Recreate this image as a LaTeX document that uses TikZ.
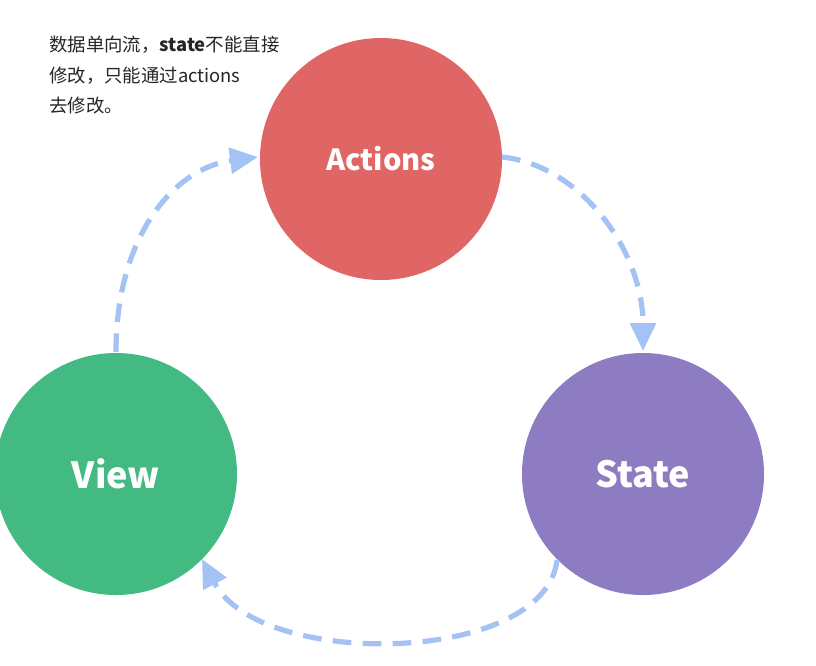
\documentclass[tikz,border=0pt]{standalone}
\usepackage{fontspec}
\setmainfont{Noto Sans}
\newfontfamily\cjk{Noto Sans CJK SC}
\usetikzlibrary{arrows.meta}
\definecolor{actred}{HTML}{E06666}
\definecolor{statepurple}{HTML}{8E7CC3}
\definecolor{viewgreen}{HTML}{43BA82}
\definecolor{flowblue}{HTML}{A4C2F4}
\tikzset{
  bubble/.style={circle, minimum size=242*0.75pt, inner sep=0pt, text=white, font=\cjk\bfseries\fontsize{27}{30}\selectfont},
  flow/.style={draw=flowblue, line width=3.9pt, dash pattern=on 14pt off 8.5pt,
    -{Triangle[length=21pt,width=19pt]}},
  note/.style={anchor=base west, inner sep=0pt, font=\cjk\fontsize{13.8}{15}\selectfont, text=black!85}
}
\begin{document}
\begin{tikzpicture}[x=0.75pt,y=-0.75pt]
\useasboundingbox (0,0) rectangle (816,665);
\fill[white] (0,0) rectangle (816,665);
\clip (0,0) rectangle (816,665);
\node[bubble, fill=actred, font=\cjk\bfseries\fontsize{21.8}{24}\selectfont] (actions) at (381,159) {Actions};
\node[bubble, fill=statepurple] (state) at (643,474) {State};
\node[bubble, fill=viewgreen] (view) at (116,474) {View};
\coordinate (v1) at (116,352);
\coordinate (a1) at (258,157);
\coordinate (a2) at (502,157);
\coordinate (s1) at (643,351);
\coordinate (s2) at (557,560);
\coordinate (v2) at (202,559);
\draw[flow] (v1) .. controls (116,235) and (175,168) .. (a1);
\draw[flow] (a2) .. controls (580,165) and (643,250) .. (s1);
\draw[flow] (s2) .. controls (545,665) and (260,670) .. (v2);
\node[note] (n1) at (49,51) {数据单向流，{\bfseries state}不能直接};
\node[note] (n2) at (49,82) {修改，只能通过actions};
\node[note] (n3) at (49,112) {去修改。};
\end{tikzpicture}
\end{document}
